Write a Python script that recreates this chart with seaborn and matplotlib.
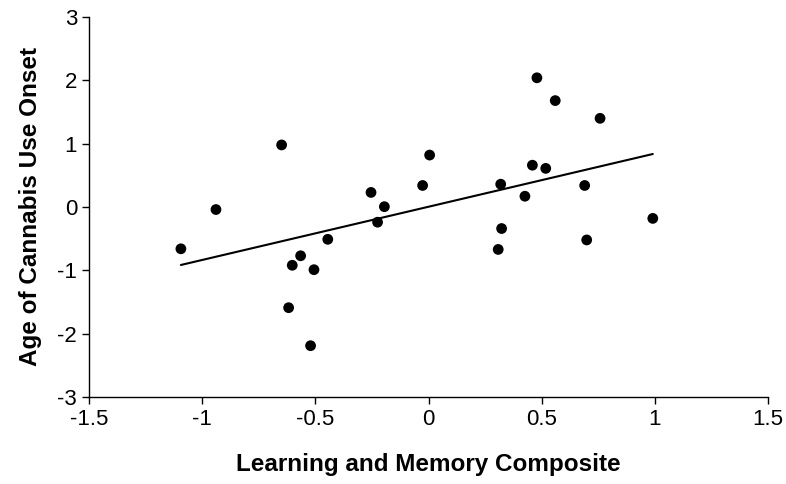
import matplotlib
matplotlib.use("Agg")
import matplotlib.pyplot as plt
import seaborn as sns
import pandas as pd

learning_memory = [-1.094, -0.939, -0.649, -0.618, -0.602, -0.565, -0.521, -0.506, -0.445,
                   -0.254, -0.225, -0.195, -0.026, 0.005, 0.308, 0.319, 0.323, 0.426,
                   0.459, 0.479, 0.518, 0.560, 0.690, 0.699, 0.758, 0.991]
onset_age = [-0.66, -0.04, 0.98, -1.59, -0.92, -0.77, -2.19, -0.99, -0.51,
             0.23, -0.24, 0.005, 0.34, 0.82, -0.67, 0.36, -0.34, 0.17,
             0.66, 2.04, 0.61, 1.68, 0.34, -0.52, 1.40, -0.18]

x_ticks = [-1.5, -1, -0.5, 0, 0.5, 1, 1.5]
x_tick_labels = ["-1.5", "-1", "-0.5", "0", "0.5", "1", "1.5"]
y_ticks = [-3, -2, -1, 0, 1, 2, 3]
y_tick_labels = ["-3", "-2", "-1", "0", "1", "2", "3"]

df = pd.DataFrame({"x": learning_memory, "y": onset_age})

sns.set_theme(style="ticks")
plt.rcParams["font.family"] = ["Liberation Sans", "DejaVu Sans"]

fig = plt.figure(figsize=(7.86, 4.84), dpi=100)
ax = fig.add_axes([89 / 786, 1 - 397 / 484, (768 - 89) / 786, (397 - 17) / 484])

sns.regplot(data=df, x="x", y="y", ax=ax, ci=None, color="black",
            scatter_kws={"s": 60, "edgecolor": "none", "alpha": 1, "zorder": 3},
            line_kws={"linewidth": 1.5, "color": "black"})

ax.set_xlim(-1.5, 1.5)
ax.set_ylim(-3, 3)
ax.set_xticks(x_ticks)
ax.set_xticklabels(x_tick_labels)
ax.set_yticks(y_ticks)
ax.set_yticklabels(y_tick_labels)
ax.tick_params(axis="both", direction="out", length=5, width=1, colors="black",
               labelsize=16, pad=3.5)
for s in ["top", "right"]:
    ax.spines[s].set_visible(False)
for s in ["left", "bottom"]:
    ax.spines[s].set_color("black")
    ax.spines[s].set_linewidth(1)
    ax.spines[s].set_clip_on(False)

ax.set_xlabel("Learning and Memory Composite", fontsize=17.5, fontweight="bold",
              labelpad=17, color="black")
ax.set_ylabel("Age of Cannabis Use Onset", fontsize=17.5, fontweight="bold",
              labelpad=11, color="black")

fig.savefig("out.png", dpi=100)
